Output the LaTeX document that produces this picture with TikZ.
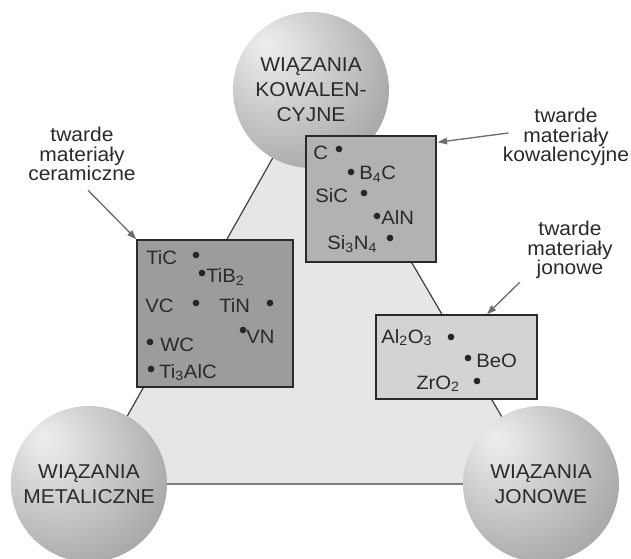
\documentclass[tikz,border=0pt]{standalone}
\usepackage{fontspec}
\setmainfont{Liberation Sans}[FakeStretch=1.05]
\usepackage{tikz}
\usetikzlibrary{arrows.meta,calc}
\usepackage{xcolor}
\definecolor{trianglefill}{HTML}{E6E6E6}
\definecolor{kowfill}{HTML}{B2B2B2}
\definecolor{cerfill}{HTML}{9C9C9C}
\definecolor{jonfill}{HTML}{D3D3D3}
\definecolor{inkgray}{HTML}{2A2A2A}
\definecolor{arrowgray}{HTML}{6E6E6E}
\pgfdeclareradialshading{bondshade}{\pgfpoint{-15bp}{15bp}}{color(0bp)=(white!93!black); color(5bp)=(white!90!black); color(28bp)=(white!72!black); color(48bp)=(white!56!black); color(72bp)=(white!45!black)}
\tikzset{
    bondball/.style={circle, shading=bondshade, minimum size=117pt, inner sep=0pt, align=center, text=inkgray, font=\fontsize{15}{18.75}\selectfont},
    bondedge/.style={draw=black!75, fill=trianglefill, line width=0.9pt},
    hardbox/.style={draw=inkgray, line width=1.1pt, inner sep=0pt},
    hardnote/.style={align=center, text=inkgray, font=\fontsize{15}{14.5}\selectfont, inner sep=1pt},
    hardarrow/.style={-{Triangle[length=7pt,width=5pt]}, draw=arrowgray, fill=arrowgray, line width=1pt},
    boxitem/.style={text=inkgray, font=\fontsize{14.5}{16}\selectfont, inner sep=0pt, anchor=base west},
    boxdot/.style={circle, fill=black!85, inner sep=0pt, minimum size=5pt}
}
\begin{document}
\begin{tikzpicture}[x=0.75pt, y=-0.75pt]
    \useasboundingbox (0,0) rectangle (631,559);
    % triangle of bonds
    \coordinate (kowc) at (311,90);
    \coordinate (metc) at (89,484);
    \coordinate (jonc) at (541,484);
    \filldraw[bondedge] (kowc) -- (metc) -- (jonc) -- cycle;

    \node[bondball] (kow) at (kowc) {WIĄZANIA\\KOWALEN-\\CYJNE};
    \node[bondball] (met) at (metc) {WIĄZANIA\\METALICZNE};
    \node[bondball] (jon) at (jonc) {WIĄZANIA\\JONOWE};

    % boxes
    \node[hardbox, fill=kowfill, minimum width=97.5pt, minimum height=94.5pt] (kowbox) at (371,199) {};
    \node[hardbox, fill=cerfill, minimum width=117pt, minimum height=110.25pt] (cerbox) at (215,313.5) {};
    \node[hardbox, fill=jonfill, minimum width=120.75pt, minimum height=63pt] (jonbox) at (456.5,357) {};

    % covalent
    \node[boxitem] (c) at (313,160) {C};
    \node[boxitem] (b4c) at (359,180) {B\textsubscript{4}C};
    \node[boxitem] (sic) at (315,203) {SiC};
    \node[boxitem] (aln) at (381,225) {AlN};
    \node[boxitem] (si3n4) at (327,250) {Si\textsubscript{3}N\textsubscript{4}};
    % ceramic
    \node[boxitem] (tic) at (146,265) {TiC};
    \node[boxitem] (tib2) at (206,283) {TiB\textsubscript{2}};
    \node[boxitem] (vc) at (145,313) {VC};
    \node[boxitem] (tin) at (219,313) {TiN};
    \node[boxitem] (vn) at (246,343) {VN};
    \node[boxitem] (wc) at (160,351) {WC};
    \node[boxitem] (ti3alc) at (159,378) {Ti\textsubscript{3}AlC};
    % ionic
    \node[boxitem] (al2o3) at (381,343) {Al\textsubscript{2}O\textsubscript{3}};
    \node[boxitem] (beo) at (476,367) {BeO};
    \node[boxitem] (zro2) at (416,389) {ZrO\textsubscript{2}};

    \foreach \n/\x/\y in {dc/339/149, db4c/351/172, dsic/364/193, daln/377/216, dsi3n4/390/238,
        dtic/196/255, dtib2/202/273, dvc/196/303, dtin/270/303, dvn/243/330, dwc/150/342, dti3alc/151/369,
        dal2o3/451/337, dbeo/468/358, dzro2/477/381}
        \node[boxdot] (\n) at (\x,\y) {};

    % notes
    \node[hardnote] (cerlabel) at (82,154) {twarde\\materiały\\ceramiczne};
    \node[hardnote] (kowlabel) at (566,137) {twarde\\materiały\\kowalencyjne};
    \node[hardnote] (jonlabel) at (570,250) {twarde\\materiały\\jonowe};

    \draw[hardarrow] ($(cerlabel.south)+(6,8)$) -- (cerbox.north west);
    \draw[hardarrow] ($(kowlabel.west)+(7,-4)$) -- ($(kowbox.north east)+(1,7)$);
    \draw[hardarrow] ($(jonlabel.south west)+(-6,2)$) -- ($(jonbox.north)+(30.5,0)$);
\end{tikzpicture}
\end{document}
